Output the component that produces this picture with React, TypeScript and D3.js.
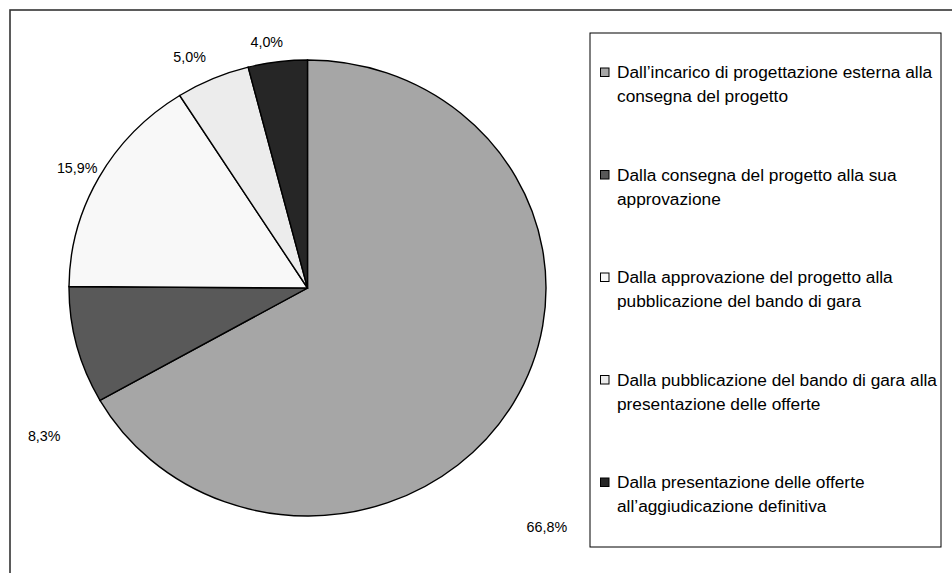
import React from "react";
import * as d3 from "d3";

const categories = [
  "Dall\u2019incarico di progettazione esterna alla consegna del progetto",
  "Dalla consegna del progetto alla sua approvazione",
  "Dalla approvazione del progetto alla pubblicazione del bando di gara",
  "Dalla pubblicazione del bando di gara alla presentazione delle offerte",
  "Dalla presentazione delle offerte all\u2019aggiudicazione definitiva",
];
const legendLines = [
  ["Dall\u2019incarico di progettazione esterna alla", "consegna del progetto"],
  ["Dalla consegna del progetto alla sua", "approvazione"],
  ["Dalla approvazione del progetto alla", "pubblicazione del bando di gara"],
  ["Dalla pubblicazione del bando di gara alla", "presentazione delle offerte"],
  ["Dalla presentazione delle offerte", "all\u2019aggiudicazione definitiva"],
];
const values = [66.8, 8.3, 15.9, 5.0, 4.0];
const labels = ["66,8%", "8,3%", "15,9%", "5,0%", "4,0%"];
const colors = ["#a6a6a6", "#595959", "#f8f8f8", "#ececec", "#262626"];
// label placement: angle (deg, clockwise from top) and radius factor
const labelAngle = [136.2, 239.6, 298.6, 334, 351];
const labelRadius = [1.45, 1.28, 1.1, 1.127, 1.092];

const W = 952;
const H = 573;

export default function App() {
  const cx = 307.5;
  const cy = 288;
  const rx = 238.5;
  const ry = 228;
  const R = 100;

  const pie = d3.pie<number>().sort(null).value((d) => d);
  const arcs = pie(values);
  const arcGen = d3.arc<d3.PieArcDatum<number>>().innerRadius(0).outerRadius(R);

  const legendX = 590;
  const legendY = 33;
  const legendW = 351;
  const legendH = 514;
  const itemY = d3.scaleLinear().domain([0, 4]).range([72, 482]);

  return (
    <svg
      width={W}
      height={H}
      style={{ position: "absolute", left: 0, top: 0, display: "block" }}
      fontFamily="'Liberation Sans', Arial, sans-serif"
    >
      <rect x={0} y={0} width={W} height={H} fill="#fff" />
      <rect x={10} y={10} width={W + 20} height={H + 20} fill="#fff" stroke="#333" strokeWidth={1.6} />
      <g transform={`translate(${cx},${cy}) scale(${rx / R},${ry / R})`}>
        {arcs.map((a, i) => (
          <path
            key={i}
            d={arcGen(a) || ""}
            fill={colors[i]}
            stroke="#000"
            strokeWidth={1.4}
            vectorEffect="non-scaling-stroke"
          />
        ))}
      </g>
      {arcs.map((a, i) => {
        const ang = (labelAngle[i] * Math.PI) / 180;
        const x = cx + rx * labelRadius[i] * Math.sin(ang);
        const y = cy - ry * labelRadius[i] * Math.cos(ang);
        return (
          <text key={i} x={x} y={y} textAnchor="middle" dominantBaseline="central" fontSize={14.3} fill="#000">
            {labels[i]}
          </text>
        );
      })}
      <rect x={legendX} y={legendY} width={legendW} height={legendH} fill="#fff" stroke="#000" strokeWidth={1} />
      {categories.map((c, i) => {
        const y = itemY(i);
        return (
          <g key={i}>
            <title>{c}</title>
            <rect x={600.5} y={y - 4} width={8.5} height={8.5} fill={colors[i]} stroke="#000" strokeWidth={1} />
            <text x={617} y={y} dominantBaseline="central" fontSize={17.3} fill="#000">
              {legendLines[i][0]}
            </text>
            <text x={617} y={y + 24} dominantBaseline="central" fontSize={17.3} fill="#000">
              {legendLines[i][1]}
            </text>
          </g>
        );
      })}
    </svg>
  );
}
